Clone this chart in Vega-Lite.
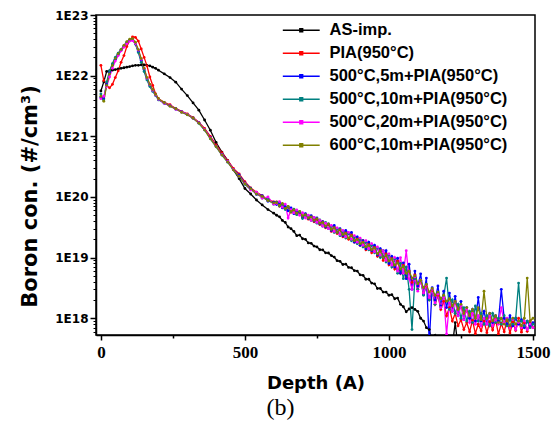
{
"$schema": "https://vega.github.io/schema/vega-lite/v6.json",
"autosize": {"type": "none"},
"padding": {"left": 96, "top": 15, "right": 17, "bottom": 105},
"width": 439,
"height": 320,
"background": "white",
"config": {
  "view": {"stroke": "black", "strokeWidth": 1.5},
  "axis": {"labelColor": "black", "titleColor": "black", "tickColor": "black", "domainColor": "black", "grid": false}
},
"title": {"text": "(b)", "orient": "bottom", "anchor": "middle", "font": "Liberation Serif", "fontSize": 24, "fontWeight": "normal", "color": "black", "dx": -35, "offset": 4},
"data": {"values": [
{"d":0,"A":5.6e21,"P":1.48e22,"B":4.37e21,"T":5.0e21,"M":4.17e21,"O":4.57e21},
{"d":10,"A":7.9e21,"P":8.3e21,"B":4.17e21,"T":3.98e21,"M":4.57e21,"O":3.8e21},
{"d":20,"A":1.17e22,"P":6.9e21,"B":7.2e21,"T":7.9e21,"M":6.6e21,"O":6.9e21},
{"d":30,"A":1.2e22,"P":6.3e21,"B":1.12e22,"T":1.2e22,"M":9.5e21,"O":1.07e22},
{"d":40,"A":1.23e22,"P":7.2e21,"B":1.51e22,"T":1.58e22,"M":1.32e22,"O":1.48e22},
{"d":50,"A":1.26e22,"P":9.3e21,"B":1.86e22,"T":2.0e22,"M":1.74e22,"O":1.91e22},
{"d":60,"A":1.29e22,"P":1.2e22,"B":2.24e22,"T":2.34e22,"M":2.14e22,"O":2.29e22},
{"d":70,"A":1.32e22,"P":1.66e22,"B":2.63e22,"T":2.69e22,"M":2.57e22,"O":2.69e22},
{"d":80,"A":1.35e22,"P":2.14e22,"B":3.02e22,"T":3.09e22,"M":2.95e22,"O":3.16e22},
{"d":90,"A":1.38e22,"P":3.02e22,"B":3.47e22,"T":3.55e22,"M":3.39e22,"O":3.63e22},
{"d":100,"A":1.41e22,"P":3.8e22,"B":3.8e22,"T":3.9e22,"M":3.72e22,"O":3.98e22},
{"d":110,"A":1.45e22,"P":4.37e22,"B":3.9e22,"T":3.98e22,"M":3.8e22,"O":4.07e22},
{"d":120,"A":1.48e22,"P":4.27e22,"B":3.31e22,"T":3.31e22,"M":3.39e22,"O":3.55e22},
{"d":130,"A":1.48e22,"P":3.72e22,"B":2.51e22,"T":2.4e22,"M":2.63e22,"O":2.69e22},
{"d":140,"A":1.51e22,"P":2.75e22,"B":1.78e22,"T":1.66e22,"M":1.86e22,"O":1.91e22},
{"d":150,"A":1.51e22,"P":2.0e22,"B":1.26e22,"T":1.17e22,"M":1.32e22,"O":1.32e22},
{"d":160,"A":1.48e22,"P":1.45e22,"B":8.9e21,"T":8.5e21,"M":9.1e21,"O":9.3e21},
{"d":170,"A":1.45e22,"P":9.5e21,"B":6.9e21,"T":6.6e21,"M":7.1e21,"O":7.2e21},
{"d":180,"A":1.38e22,"P":6.9e21,"B":5.75e21,"T":5.5e21,"M":5.75e21,"O":5.9e21},
{"d":190,"A":1.32e22,"P":5.0e21,"B":4.8e21,"T":4.7e21,"M":4.8e21,"O":4.9e21},
{"d":200,"A":1.23e22,"P":4.17e21,"B":4.07e21,"T":3.98e21,"M":4.07e21,"O":4.17e21},
{"d":220,"A":1.07e22,"P":3.63e21,"B":3.5e21,"T":3.6e21,"M":3.52e21,"O":3.58e21},
{"d":240,"A":9.3e21,"P":3.31e21,"B":3.2e21,"T":3.15e21,"M":3.18e21,"O":3.14e21},
{"d":260,"A":7.8e21,"P":2.88e21,"B":2.8e21,"T":2.85e21,"M":2.8e21,"O":2.84e21},
{"d":280,"A":6.0e21,"P":2.57e21,"B":2.55e21,"T":2.5e21,"M":2.52e21,"O":2.49e21},
{"d":300,"A":4.7e21,"P":2.34e21,"B":2.3e21,"T":2.28e21,"M":2.3e21,"O":2.27e21},
{"d":320,"A":3.55e21,"P":2.04e21,"B":1.98e21,"T":2.02e21,"M":2.0e21,"O":1.99e21},
{"d":340,"A":2.7e21,"P":1.7e21,"B":1.68e21,"T":1.64e21,"M":1.67e21,"O":1.65e21},
{"d":360,"A":1.86e21,"P":1.35e21,"B":1.3e21,"T":1.27e21,"M":1.3e21,"O":1.28e21},
{"d":380,"A":1.26e21,"P":1.0e21,"B":9.5e20,"T":9.1e20,"M":9.4e20,"O":9.2e20},
{"d":400,"A":7.9e20,"P":7.2e20,"B":6.9e20,"T":6.7e20,"M":6.9e20,"O":6.8e20},
{"d":420,"A":5.5e20,"P":5.4e20,"B":5.1e20,"T":4.9e20,"M":5.0e20,"O":4.95e20},
{"d":440,"A":4.0e20,"P":4.0e20,"B":3.9e20,"T":3.75e20,"M":3.85e20,"O":3.8e20},
{"d":460,"A":2.8e20,"P":2.95e20,"B":2.85e20,"T":2.8e20,"M":2.85e20,"O":2.8e20},
{"d":480,"A":2.0e20,"P":2.4e20,"B":2.3e20,"T":2.15e20,"M":2.2e20,"O":2.2e20},
{"d":500,"A":1.38e20,"P":1.78e20,"B":1.7e20,"T":1.62e20,"M":1.68e20,"O":1.65e20},
{"d":520,"A":1.12e20,"P":1.41e20,"B":1.4e20,"T":1.32e20,"M":1.3e20,"O":1.37e20},
{"d":540,"A":8.9e19,"P":1.2e20,"B":1.1e20,"T":1.18e20,"M":1.2e20,"O":1.12e20},
{"d":560,"A":7.4e19,"P":1.05e20,"B":1.05e20,"T":9.6e19,"M":9.5e19,"O":1.02e20},
{"d":580,"A":6.2e19,"P":9.1e19,"B":8.5e19,"T":9.2e19,"M":1.0e20,"O":8.7e19},
{"d":600,"A":5.4e19,"P":8.3e19,"B":8.2e19,"T":7.6e19,"M":7.6e19,"O":8.0e19},
{"d":610,"A":5.0e19,"P":8.3e19,"B":7.5e19,"T":8.2e19,"M":7.8e19,"O":8.0e19},
{"d":620,"A":4.7e19,"P":7.0e19,"B":8.0e19,"T":7.1e19,"M":8.4e19,"O":7.3e19},
{"d":630,"A":4.1e19,"P":7.6e19,"B":6.6e19,"T":7.5e19,"M":6.8e19,"O":7.8e19},
{"d":640,"A":3.8e19,"P":6.4e19,"B":7.0e19,"T":6.2e19,"M":7.6e19,"O":6.5e19},
{"d":650,"A":3.2e19,"P":6.8e19,"B":5.9e19,"T":6.9e19,"M":4.5e19,"O":7.0e19},
{"d":660,"A":3.0e19,"P":5.6e19,"B":6.6e19,"T":5.7e19,"M":6.2e19,"O":5.8e19},
{"d":670,"A":2.7e19,"P":6.2e19,"B":5.3e19,"T":6.3e19,"M":5.5e19,"O":6.1e19},
{"d":680,"A":2.3e19,"P":5.2e19,"B":5.9e19,"T":5.1e19,"M":6.1e19,"O":5.4e19},
{"d":690,"A":2.35e19,"P":5.6e19,"B":5.6e19,"T":5.7e19,"M":5.0e19,"O":5.8e19},
{"d":700,"A":2.05e19,"P":4.6e19,"B":4.7e19,"T":4.4e19,"M":5.5e19,"O":4.9e19},
{"d":710,"A":2.0e19,"P":5.2e19,"B":5.3e19,"T":5.0e19,"M":4.5e19,"O":5.1e19},
{"d":720,"A":1.75e19,"P":4.3e19,"B":4.4e19,"T":4.9e19,"M":5.0e19,"O":4.5e19},
{"d":730,"A":1.72e19,"P":4.8e19,"B":4.9e19,"T":4.1e19,"M":4.1e19,"O":4.7e19},
{"d":740,"A":1.55e19,"P":3.9e19,"B":4.0e19,"T":4.6e19,"M":4.6e19,"O":4.1e19},
{"d":750,"A":1.5e19,"P":4.3e19,"B":4.5e19,"T":3.7e19,"M":3.8e19,"O":4.4e19},
{"d":760,"A":1.35e19,"P":3.5e19,"B":3.6e19,"T":4.2e19,"M":4.1e19,"O":3.7e19},
{"d":770,"A":1.34e19,"P":3.9e19,"B":3.9e19,"T":3.3e19,"M":3.3e19,"O":3.8e19},
{"d":780,"A":1.2e19,"P":3.1e19,"B":3.2e19,"T":3.8e19,"M":3.7e19,"O":3.3e19},
{"d":790,"A":1.19e19,"P":3.5e19,"B":3.6e19,"T":3.0e19,"M":3.0e19,"O":3.6e19},
{"d":800,"A":1.08e19,"P":2.7e19,"B":2.8e19,"T":3.3e19,"M":3.4e19,"O":2.9e19},
{"d":810,"A":1.02e19,"P":3.2e19,"B":3.4e19,"T":2.6e19,"M":2.7e19,"O":3.1e19},
{"d":820,"A":8.9e18,"P":2.5e19,"B":2.6e19,"T":3.0e19,"M":3.1e19,"O":2.6e19},
{"d":830,"A":8.7e18,"P":2.9e19,"B":3.0e19,"T":2.3e19,"M":2.4e19,"O":2.9e19},
{"d":840,"A":7.7e18,"P":2.2e19,"B":2.3e19,"T":2.7e19,"M":2.8e19,"O":2.4e19},
{"d":850,"A":7.8e18,"P":2.6e19,"B":2.8e19,"T":2.1e19,"M":2.2e19,"O":2.5e19},
{"d":860,"A":6.9e18,"P":2.0e19,"B":2.5e19,"T":2.5e19,"M":2.6e19,"O":2.1e19},
{"d":870,"A":6.8e18,"P":2.4e19,"B":2.6e19,"T":1.9e19,"M":2.0e19,"O":2.3e19},
{"d":880,"A":6.1e18,"P":1.8e19,"B":1.8e19,"T":2.2e19,"M":2.3e19,"O":1.9e19},
{"d":890,"A":6.0e18,"P":2.1e19,"B":2.2e19,"T":1.7e19,"M":1.8e19,"O":2.0e19},
{"d":900,"A":5.2e18,"P":1.6e19,"B":1.6e19,"T":2.0e19,"M":2.1e19,"O":1.7e19},
{"d":910,"A":5.1e18,"P":1.9e19,"B":1.9e19,"T":1.5e19,"M":1.6e19,"O":1.8e19},
{"d":920,"A":4.4e18,"P":1.35e19,"B":1.4e19,"T":1.8e19,"M":1.9e19,"O":1.5e19},
{"d":930,"A":4.4e18,"P":1.7e19,"B":1.8e19,"T":1.35e19,"M":1.4e19,"O":1.6e19},
{"d":940,"A":3.8e18,"P":1.2e19,"B":1.3e19,"T":1.6e19,"M":1.7e19,"O":1.35e19},
{"d":950,"A":3.7e18,"P":1.5e19,"B":1.6e19,"T":1.2e19,"M":1.25e19,"O":1.45e19},
{"d":960,"A":3.1e18,"P":1.05e19,"B":1.1e19,"T":1.45e19,"M":1.5e19,"O":1.15e19},
{"d":970,"A":3.1e18,"P":1.35e19,"B":1.4e19,"T":1.0e19,"M":1.1e19,"O":1.3e19},
{"d":980,"A":2.7e18,"P":9.0e18,"B":1.0e19,"T":1.3e19,"M":1.3e19,"O":1.0e19},
{"d":990,"A":2.7e18,"P":1.15e19,"B":1.3e19,"T":8.5e18,"M":9.0e18,"O":1.1e19},
{"d":1000,"A":2.4e18,"P":7.6e18,"B":8.0e18,"T":1.1e19,"M":1.15e19,"O":8.8e18},
{"d":1010,"A":2.45e18,"P":1.0e19,"B":1.05e19,"T":7.0e18,"M":7.5e18,"O":9.5e18},
{"d":1020,"A":2.1e18,"P":6.5e18,"B":7.0e18,"T":9.5e18,"M":1.0e19,"O":7.5e18},
{"d":1030,"A":2.15e18,"P":8.8e18,"B":9.8e18,"T":5.5e18,"M":6.0e18,"O":8.2e18},
{"d":1040,"A":1.7e18,"P":5.5e18,"B":5.5e18,"T":8.0e18,"M":1.0e19,"O":6.5e18},
{"d":1050,"A":1.55e18,"P":7.5e18,"B":8.2e18,"T":4.5e18,"M":5.5e18,"O":7.2e18},
{"d":1060,"A":1.28e18,"P":4.6e18,"B":4.5e18,"T":7.0e18,"M":1.3e19,"O":5.5e18},
{"d":1070,"A":1.42e18,"P":6.0e18,"B":7.8e18,"T":3.0e18,"M":4.5e18,"O":6.0e18},
{"d":1080,"A":1.5e18,"P":3.9e18,"B":3.0e18,"T":6.5e17,"M":3.0e18,"O":4.6e18},
{"d":1090,"A":1.4e18,"P":5.2e18,"B":6.0e18,"T":4.5e18,"M":4.8e18,"O":5.0e18},
{"d":1100,"A":1.3e18,"P":3.0e18,"B":3.4e18,"T":3.0e18,"M":2.8e18,"O":3.7e18},
{"d":1110,"A":1.0e18,"P":4.2e18,"B":5.4e18,"T":4.2e18,"M":4.2e18,"O":4.2e18},
{"d":1120,"A":9.0e17,"P":2.6e18,"B":2.5e18,"T":2.4e18,"M":2.6e18,"O":3.2e18},
{"d":1130,"A":7.0e17,"P":3.4e18,"B":4.6e18,"T":3.6e18,"M":3.5e18,"O":3.6e18},
{"d":1140,"A":6.5e17,"P":2.0e18,"B":4.0e17,"T":2.0e18,"M":2.2e18,"O":2.7e18},
{"d":1150,"A":4.0e17,"P":2.9e18,"B":3.2e18,"T":3.0e18,"M":3.0e18,"O":3.1e18},
{"d":1160,"A":5.2e17,"P":1.7e18,"B":2.0e18,"T":1.7e18,"M":1.8e18,"O":2.4e18},
{"d":1170,"A":3.2e17,"P":2.4e18,"B":3.4e18,"T":2.6e18,"M":2.5e18,"O":2.7e18},
{"d":1180,"A":4.5e17,"P":1.4e18,"B":1.6e18,"T":1.5e18,"M":1.5e18,"O":2.1e18},
{"d":1190,"A":3.0e17,"P":1.9e18,"B":2.8e18,"T":2.3e18,"M":2.2e18,"O":2.4e18},
{"d":1200,"A":4.0e17,"P":1.1e18,"B":1.5e18,"T":4.6e18,"M":5.5e17,"O":1.9e18},
{"d":1210,"A":3.0e17,"P":1.5e18,"B":2.6e18,"T":1.4e18,"M":1.8e18,"O":2.1e18},
{"d":1220,"A":3.5e17,"P":9.0e17,"B":1.3e18,"T":2.0e18,"M":1.3e18,"O":1.6e18},
{"d":1230,"A":8.5e17,"P":1.2e18,"B":2.3e18,"T":1.2e18,"M":1.9e18,"O":1.9e18},
{"d":1240,"A":3.2e17,"P":7.5e17,"B":1.1e18,"T":1.7e18,"M":1.1e18,"O":1.4e18},
{"d":1250,"A":3.0e17,"P":9.5e17,"B":1.9e18,"T":1.0e18,"M":1.6e18,"O":1.7e18},
{"d":1260,"P":6.5e17,"B":9.5e17,"T":1.5e18,"M":9.5e17,"O":1.2e18},
{"d":1270,"P":8.5e17,"B":1.5e18,"T":9.0e17,"M":1.4e18,"O":1.5e18},
{"d":1280,"P":6.0e17,"B":1.0e18,"T":1.3e18,"M":8.5e17,"O":1.1e18},
{"d":1290,"P":9.2e17,"B":1.4e18,"T":8.5e17,"M":1.2e18,"O":1.4e18},
{"d":1300,"P":5.6e17,"B":9.0e17,"T":1.6e18,"M":8.0e17,"O":1.0e18},
{"d":1310,"P":8.0e17,"B":2.2e18,"T":9.0e17,"M":1.1e18,"O":1.5e18},
{"d":1320,"P":6.2e17,"B":9.0e17,"T":1.2e18,"M":7.5e17,"O":9.5e17},
{"d":1330,"P":9.0e17,"B":1.3e18,"T":8.0e17,"M":1.0e18,"O":2.8e18},
{"d":1340,"P":5.8e17,"B":8.0e17,"T":1.1e18,"M":8.0e17,"O":1.0e18},
{"d":1350,"P":8.8e17,"B":1.2e18,"T":7.5e17,"M":1.1e18,"O":1.2e18},
{"d":1360,"P":6.4e17,"B":8.5e17,"T":1.2e18,"M":7.5e17,"O":9.0e17},
{"d":1370,"P":9.6e17,"B":1.1e18,"T":8.5e17,"M":9.5e17,"O":1.1e18},
{"d":1380,"P":5.5e17,"B":9.0e17,"T":1.0e18,"M":8.0e17,"O":8.5e17},
{"d":1390,"P":8.2e17,"B":3.0e18,"T":8.0e17,"M":1.5e18,"O":1.0e18},
{"d":1400,"P":6.0e17,"B":1.0e18,"T":1.1e18,"M":8.5e17,"O":8.0e17},
{"d":1410,"P":9.3e17,"B":8.0e17,"T":7.5e17,"M":1.0e18,"O":9.5e17},
{"d":1420,"P":5.7e17,"B":1.1e18,"T":9.5e17,"M":7.0e17,"O":7.5e17},
{"d":1430,"P":8.6e17,"B":7.5e17,"T":8.0e17,"M":9.5e17,"O":1.0e18},
{"d":1440,"P":6.3e17,"B":1.0e18,"T":1.0e18,"M":6.5e17,"O":8.0e17},
{"d":1450,"P":1.0e18,"B":8.0e17,"T":3.8e18,"M":8.5e17,"O":9.0e17},
{"d":1460,"P":5.9e17,"B":9.5e17,"T":9.0e17,"M":7.0e17,"O":7.5e17},
{"d":1470,"P":8.4e17,"B":7.0e17,"T":7.5e17,"M":9.0e17,"O":1.0e18},
{"d":1480,"P":6.1e17,"B":9.0e17,"T":9.0e17,"M":6.5e17,"O":4.6e18},
{"d":1490,"P":9.0e17,"B":7.5e17,"T":7.0e17,"M":8.0e17,"O":9.0e17},
{"d":1500,"P":7.0e17,"B":8.5e17,"T":8.0e17,"M":7.0e17,"O":1.0e18}
]},
"transform": [{"fold": ["A", "P", "B", "T", "M", "O"], "as": ["s", "v"]}],
"layer": [
  {
    "mark": {"type": "line", "strokeWidth": 1.3, "clip": true},
    "encoding": {
      "x": {"field": "d", "type": "quantitative",
        "scale": {"domain": [-17, 1507], "nice": false, "zero": false},
        "axis": {"values": [0, 500, 1000, 1500], "format": "d", "orient": "bottom",
          "labelFont": "Liberation Sans Narrow", "labelFontWeight": "bold", "labelFontSize": 17,
          "tickSize": 5, "tickWidth": 1.5, "domainWidth": 1.5, "labelPadding": 4,
          "title": "Depth (A)", "titleFont": "DejaVu Sans", "titleFontSize": 18, "titleFontWeight": "bold", "titlePadding": 14}},
      "y": {"field": "v", "type": "quantitative",
        "scale": {"type": "log", "domain": [5.3e17, 1e23], "nice": false},
        "axis": {"values": [1e18, 1e19, 1e20, 1e21, 1e22, 1e23], "orient": "left",
          "labelExpr": "'1E' + round(log(datum.value) / LN10)",
          "labelFont": "DejaVu Sans", "labelFontWeight": "bold", "labelFontSize": 12,
          "tickSize": 6, "tickWidth": 1.5, "domainWidth": 1.5, "labelPadding": 2,
          "title": "Boron con. (#/cm³)", "titleFont": "DejaVu Sans", "titleFontSize": 21, "titleFontWeight": "bold",
          "titleX": -66, "titleY": 181, "titleBaseline": "middle", "titleAlign": "center"}},
      "color": {"field": "s", "type": "nominal",
        "scale": {"domain": ["A", "P", "B", "T", "M", "O"], "range": ["#000000", "#ff0000", "#0000ff", "#008080", "#ff00ff", "#808000"]},
        "legend": {"orient": "none", "legendX": 197, "legendY": 7, "title": null,
          "symbolType": "M-4,0H4M-0.3,-0.3H0.3V0.3H-0.3Z", "symbolSize": 85, "symbolStrokeWidth": 1.5,
          "labelFont": "Liberation Sans", "labelFontWeight": "bold", "labelFontSize": 16.5, "labelColor": "black", "labelLimit": 400,
          "rowPadding": 6, "labelOffset": 20, "padding": 0,
          "labelExpr": "datum.label == 'A' ? 'AS-imp.' : datum.label == 'P' ? 'PIA(950°C)' : datum.label == 'B' ? '500°C,5m+PIA(950°C)' : datum.label == 'T' ? '500°C,10m+PIA(950°C)' : datum.label == 'M' ? '500°C,20m+PIA(950°C)' : '600°C,10m+PIA(950°C)'"}}
    }
  },
  {
    "mark": {"type": "point", "filled": true, "shape": "circle", "size": 8, "opacity": 1, "clip": true},
    "encoding": {
      "x": {"field": "d", "type": "quantitative",
        "scale": {"domain": [-17, 1507], "nice": false, "zero": false},
        "axis": {"values": [250, 750, 1250], "orient": "bottom", "labels": false, "domain": false, "tickSize": 3, "tickWidth": 1.5, "title": null}},
      "y": {"field": "v", "type": "quantitative",
        "scale": {"type": "log", "domain": [5.3e17, 1e23], "nice": false},
        "axis": {"values": [6e17, 7e17, 8e17, 9e17, 2e18, 3e18, 4e18, 5e18, 6e18, 7e18, 8e18, 9e18, 2e19, 3e19, 4e19, 5e19, 6e19, 7e19, 8e19, 9e19, 2e20, 3e20, 4e20, 5e20, 6e20, 7e20, 8e20, 9e20, 2e21, 3e21, 4e21, 5e21, 6e21, 7e21, 8e21, 9e21, 2e22, 3e22, 4e22, 5e22, 6e22, 7e22, 8e22, 9e22],
          "orient": "left", "labels": false, "domain": false, "tickSize": 3, "tickWidth": 1, "title": null}},
      "color": {"field": "s", "type": "nominal",
        "scale": {"domain": ["A", "P", "B", "T", "M", "O"], "range": ["#000000", "#ff0000", "#0000ff", "#008080", "#ff00ff", "#808000"]},
        "legend": null}
    }
  }
],
"resolve": {"axis": {"x": "independent", "y": "independent"}}
}
